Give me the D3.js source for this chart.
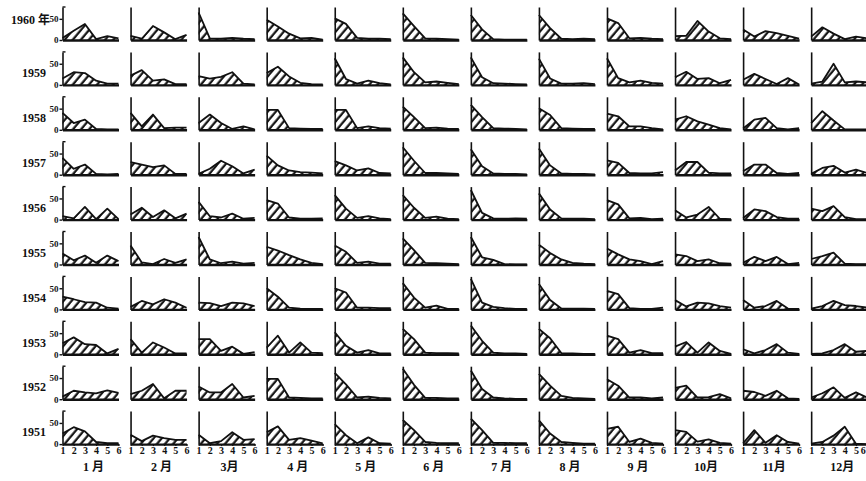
<!DOCTYPE html>
<html>
<head>
<meta charset="utf-8">
<script src="https://cdn.jsdelivr.net/npm/d3@7"></script>
<style>
body { margin:0; background:#fff; }
svg { display:block; }
text { font-family: "Liberation Serif", "Noto Sans CJK SC", serif; font-weight:bold; fill:#111; }
</style>
</head>
<body>
<div id="chart"></div>
<script>
var w = 866, h = 481;

var years = ["1960 年","1959","1958","1957","1956","1955","1954","1953","1952","1951"];
var months = ["1 月","2 月","3月","4 月","5 月","6 月","7 月","8 月","9 月","10月","11月","12月"];
var xTicks = [1,2,3,4,5,6];
var yTicks = [0,50];

// one list of 6 values per month, Jan..Dec
var v1960 = [[5,22,38,2,9,4],[10,3,33,18,2,12],[65,4,3,5,3,2],[48,32,15,4,5,1],[51,38,5,3,3,2],[63,33,4,3,2,1],
             [59,25,2,1,1,1],[59,28,3,2,3,2],[51,40,4,5,3,2],[9,10,45,20,4,2],[25,8,21,16,10,3],[8,30,15,2,8,4]];
var v1959 = [[15,30,28,10,3,3],[22,35,10,13,2,2],[21,15,19,30,3,1],[28,43,20,5,2,1],[63,14,3,10,4,1],[65,30,6,8,5,2],
             [65,18,4,3,2,1],[62,15,3,3,4,2],[63,16,6,10,5,3],[18,31,14,16,4,12],[12,26,14,2,16,1],[3,8,50,6,8,6]];
var v1958 = [[40,16,24,2,1,1],[40,8,36,4,5,5],[16,36,16,2,8,1],[47,47,4,3,2,2],[47,47,4,8,4,3],[55,30,4,5,3,2],
             [59,30,4,3,2,1],[51,35,4,3,2,2],[38,32,8,8,4,1],[24,32,20,12,4,1],[3,24,28,4,1,4],[16,44,22,1,1,1]];
var v1957 = [[40,14,24,2,1,2],[30,24,18,22,2,2],[2,14,33,20,3,12],[45,22,10,6,5,3],[32,22,10,15,4,3],[65,33,4,4,3,2],
             [60,20,3,2,2,1],[62,22,3,2,2,1],[34,28,4,3,3,6],[10,30,30,5,3,3],[8,24,24,4,2,4],[2,16,21,5,12,4]];
var v1956 = [[8,3,30,1,26,1],[12,28,6,22,3,14],[42,8,5,14,2,4],[46,38,5,2,2,3],[58,26,4,8,3,1],[58,28,4,7,2,1],
             [70,16,3,2,3,2],[62,24,3,2,2,1],[46,36,3,4,1,2],[22,5,12,30,2,1],[4,24,20,6,2,2],[26,20,32,6,1,1]];
var v1955 = [[26,10,21,4,21,8],[45,5,1,13,4,12],[65,12,3,7,2,4],[42,33,22,12,4,1],[45,30,4,7,2,2],[62,34,4,3,2,1],
             [65,17,11,1,0,0],[47,27,12,4,2,1],[38,24,12,8,1,8],[24,20,8,12,3,2],[4,18,8,18,1,4],[13,20,28,2,1,1]];
var v1954 = [[30,24,17,16,4,2],[6,20,12,24,16,4],[16,15,8,16,14,8],[50,30,4,2,1,1],[50,40,4,4,3,3],[62,28,4,9,1,1],
             [72,16,6,3,1,1],[60,22,2,2,2,1],[44,36,3,1,1,4],[22,7,16,14,8,4],[22,4,8,20,2,1],[2,8,20,10,8,4]];
var v1953 = [[26,40,24,22,2,13],[36,4,28,16,2,2],[36,36,8,18,1,5],[16,44,4,28,4,3],[52,20,4,10,2,2],[60,36,4,3,3,2],
             [68,32,4,2,2,1],[60,38,3,2,1,1],[44,36,4,10,3,3],[18,29,4,28,8,1],[12,2,10,24,4,1],[1,2,10,24,6,8]];
var v1952 = [[6,20,16,14,21,15],[12,20,36,2,20,20],[30,16,16,36,4,8],[48,48,4,3,2,2],[62,35,4,6,3,2],[72,34,3,3,2,2],
             [68,24,4,2,1,1],[60,32,8,3,2,1],[47,32,4,4,2,4],[27,32,4,5,12,2],[20,17,8,20,2,1],[4,14,28,3,16,4]];
var v1951 = [[25,40,30,5,2,2],[22,7,20,14,10,10],[22,2,7,28,10,12],[28,42,10,14,8,2],[47,21,2,16,2,1],[57,33,5,3,2,2],
             [60,33,3,3,2,2],[56,25,5,3,1,1],[36,41,5,13,3,1],[33,29,6,11,3,1],[2,33,3,21,5,1],[1,5,20,41,1,0]];

var rows = [v1960,v1959,v1958,v1957,v1956,v1955,v1954,v1953,v1952,v1951];

var left = 62.5, colStep = 68.06;
var top0 = 40, rowStep = 44.9;

var x = d3.scaleLinear().domain([1,6]).range([0,56]);
var y = d3.scaleLinear().domain([0,78]).range([0,-33]);

var svg = d3.select("#chart").append("svg")
  .attr("width", w)
  .attr("height", h);

svg.append("defs").append("pattern")
  .attr("id","hatch")
  .attr("patternUnits","userSpaceOnUse")
  .attr("width",6.2)
  .attr("height",6.2)
  .attr("patternTransform","rotate(40)")
  .append("line")
  .attr("x1",1.5).attr("y1",0)
  .attr("x2",1.5).attr("y2",6.2)
  .style("stroke","#111")
  .style("stroke-width",2.2);

var area = d3.area()
  .x(function(d,i) { return x(i+1); })
  .y0(0)
  .y1(function(d) { return y(d); });

var line = d3.line()
  .x(function(d,i) { return x(i+1); })
  .y(function(d) { return y(d); });

rows.forEach(function(row, r) {
  var by = top0 + r*rowStep;

  svg.append("text")
    .attr("x", r == 0 ? 50 : 46)
    .attr("y", r == 0 ? by-20 : by-12)
    .attr("dy","0.35em")
    .attr("text-anchor","end")
    .style("font-size","12px")
    .text(years[r]);

  row.forEach(function(vals, c) {
    var g = svg.append("g")
      .attr("transform","translate("+(left+c*colStep)+","+by+")");

    g.append("path")
      .attr("d", area(vals))
      .style("fill","url(#hatch)");
    g.append("path")
      .attr("d", line(vals))
      .style("fill","none")
      .style("stroke","#111")
      .style("stroke-width",1.8)
      .style("stroke-linejoin","round");

    var ya = g.append("g")
      .call(d3.axisLeft(y).tickValues(c == 0 ? yTicks : []).tickSize(3).tickSizeOuter(0).tickPadding(1));
    ya.select(".domain").style("stroke","#111").style("stroke-width",1.6);
    ya.selectAll(".tick line").style("stroke","#111").style("stroke-width",1.4);
    ya.selectAll(".tick text").style("font-size","9px").attr("font-family",null).attr("fill",null);
    if (c == 0) {
      g.append("path")
        .attr("d","M0,"+y(78)+"h3")
        .style("stroke","#111")
        .style("stroke-width",1.4);
    }

    var xa = g.append("g")
      .call(d3.axisBottom(x).tickValues(r == rows.length-1 ? xTicks : []).tickFormat(d3.format("d"))
        .tickSize(2).tickSizeOuter(0).tickPadding(1));
    xa.select(".domain").style("stroke","#111").style("stroke-width",2.4);
    xa.selectAll(".tick line").style("stroke","#111").style("stroke-width",1.2);
    xa.selectAll(".tick text").style("font-size","10px").attr("font-family",null).attr("fill",null);
    // keep the last "6" of the last panel inside the page
    if (c == row.length-1) {
      xa.selectAll(".tick text").filter(function(d) { return d == 6; })
        .attr("text-anchor","end")
        .attr("x", -2);
    }
  });
});

svg.selectAll(".month")
  .data(months)
  .enter()
  .append("text")
  .attr("class","month")
  .attr("x", function(d,i) { return left + i*colStep + 31; })
  .attr("y", 467)
  .attr("dy","0.35em")
  .attr("text-anchor","middle")
  .style("font-size","12px")
  .text(function(d) { return d; });
</script>
</body>
</html>
